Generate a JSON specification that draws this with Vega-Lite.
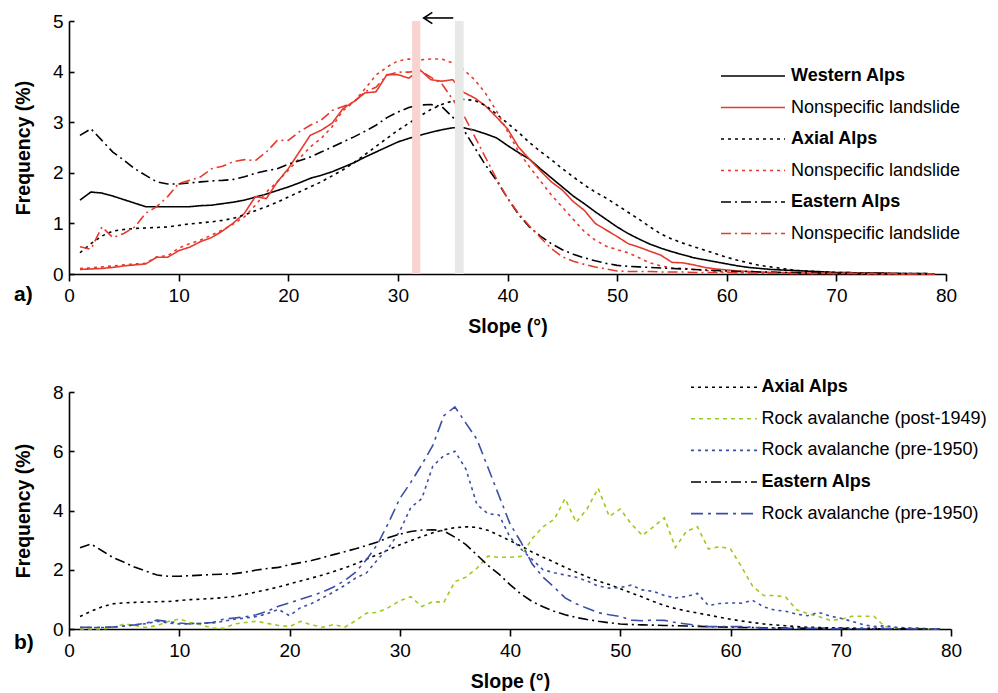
{
"$schema": "https://vega.github.io/schema/vega-lite/v6.json",
"autosize": {"type": "pad"},
"padding": {"left": 13, "top": 9, "right": 0, "bottom": 0},
"background": "white",
"bounds": "flush",
"spacing": 118,
"datasets": {"d": [
{"x":1,"W":1.46,"WN":0.09,"A":0.42,"AN":0.11,"E":2.74,"EN":0.54,"G":0,"BD":0.05,"BE":0.06},
{"x":2,"W":1.62,"WN":0.10,"A":0.60,"AN":0.12,"E":2.87,"EN":0.49,"G":0,"BD":0.05,"BE":0.06},
{"x":3,"W":1.60,"WN":0.11,"A":0.75,"AN":0.14,"E":2.64,"EN":0.93,"G":0,"BD":0.05,"BE":0.06},
{"x":4,"W":1.54,"WN":0.13,"A":0.85,"AN":0.16,"E":2.41,"EN":0.72,"G":0.05,"BD":0.06,"BE":0.07},
{"x":5,"W":1.47,"WN":0.16,"A":0.88,"AN":0.18,"E":2.25,"EN":0.80,"G":0.17,"BD":0.10,"BE":0.10},
{"x":6,"W":1.40,"WN":0.18,"A":0.90,"AN":0.20,"E":2.08,"EN":0.93,"G":0.12,"BD":0.14,"BE":0.14},
{"x":7,"W":1.33,"WN":0.20,"A":0.91,"AN":0.21,"E":1.95,"EN":1.20,"G":0.05,"BD":0.18,"BE":0.20},
{"x":8,"W":1.33,"WN":0.33,"A":0.92,"AN":0.34,"E":1.82,"EN":1.33,"G":0.12,"BD":0.26,"BE":0.30},
{"x":9,"W":1.33,"WN":0.33,"A":0.93,"AN":0.36,"E":1.78,"EN":1.53,"G":0.25,"BD":0.20,"BE":0.25},
{"x":10,"W":1.33,"WN":0.46,"A":0.96,"AN":0.51,"E":1.78,"EN":1.79,"G":0.34,"BD":0.17,"BE":0.20},
{"x":11,"W":1.33,"WN":0.53,"A":0.99,"AN":0.60,"E":1.80,"EN":1.85,"G":0.22,"BD":0.18,"BE":0.17},
{"x":12,"W":1.35,"WN":0.64,"A":1.01,"AN":0.67,"E":1.82,"EN":1.92,"G":0.14,"BD":0.19,"BE":0.19},
{"x":13,"W":1.36,"WN":0.72,"A":1.03,"AN":0.77,"E":1.84,"EN":2.08,"G":0.03,"BD":0.20,"BE":0.22},
{"x":14,"W":1.39,"WN":0.85,"A":1.06,"AN":0.87,"E":1.85,"EN":2.13,"G":0.02,"BD":0.26,"BE":0.33},
{"x":15,"W":1.42,"WN":1.01,"A":1.10,"AN":0.99,"E":1.87,"EN":2.22,"G":0.17,"BD":0.33,"BE":0.37},
{"x":16,"W":1.46,"WN":1.20,"A":1.17,"AN":1.13,"E":1.92,"EN":2.26,"G":0.22,"BD":0.37,"BE":0.41},
{"x":17,"W":1.52,"WN":1.53,"A":1.25,"AN":1.36,"E":1.99,"EN":2.24,"G":0.26,"BD":0.42,"BE":0.48},
{"x":18,"W":1.58,"WN":1.49,"A":1.33,"AN":1.62,"E":2.04,"EN":2.41,"G":0.19,"BD":0.52,"BE":0.60},
{"x":19,"W":1.65,"WN":1.82,"A":1.42,"AN":1.82,"E":2.08,"EN":2.64,"G":0.12,"BD":0.66,"BE":0.77},
{"x":20,"W":1.72,"WN":2.08,"A":1.52,"AN":2.05,"E":2.17,"EN":2.64,"G":0.08,"BD":0.45,"BE":0.88},
{"x":21,"W":1.80,"WN":2.41,"A":1.62,"AN":2.28,"E":2.24,"EN":2.81,"G":0.26,"BD":0.72,"BE":1.00},
{"x":22,"W":1.89,"WN":2.74,"A":1.72,"AN":2.51,"E":2.31,"EN":2.94,"G":0.14,"BD":0.86,"BE":1.12},
{"x":23,"W":1.95,"WN":2.84,"A":1.82,"AN":2.68,"E":2.41,"EN":3.04,"G":0.06,"BD":1.05,"BE":1.25},
{"x":24,"W":2.02,"WN":2.98,"A":1.94,"AN":2.91,"E":2.51,"EN":3.23,"G":0.15,"BD":1.25,"BE":1.42},
{"x":25,"W":2.11,"WN":3.27,"A":2.06,"AN":3.23,"E":2.61,"EN":3.31,"G":0.06,"BD":1.47,"BE":1.63},
{"x":26,"W":2.20,"WN":3.41,"A":2.20,"AN":3.40,"E":2.71,"EN":3.40,"G":0.28,"BD":1.72,"BE":1.92},
{"x":27,"W":2.31,"WN":3.58,"A":2.36,"AN":3.66,"E":2.82,"EN":3.60,"G":0.54,"BD":1.90,"BE":2.35},
{"x":28,"W":2.41,"WN":3.60,"A":2.52,"AN":3.93,"E":2.94,"EN":3.69,"G":0.56,"BD":2.35,"BE":2.87},
{"x":29,"W":2.51,"WN":3.94,"A":2.68,"AN":4.09,"E":3.09,"EN":3.93,"G":0.73,"BD":2.75,"BE":3.60},
{"x":30,"W":2.61,"WN":3.94,"A":2.84,"AN":4.21,"E":3.20,"EN":3.99,"G":0.95,"BD":3.30,"BE":4.40},
{"x":31,"W":2.68,"WN":3.87,"A":2.98,"AN":4.25,"E":3.29,"EN":3.99,"G":1.09,"BD":4.10,"BE":4.95},
{"x":32,"W":2.74,"WN":4.04,"A":3.12,"AN":4.23,"E":3.34,"EN":4.02,"G":0.76,"BD":4.40,"BE":5.55},
{"x":33,"W":2.80,"WN":3.84,"A":3.25,"AN":4.25,"E":3.35,"EN":3.89,"G":0.92,"BD":5.50,"BE":6.20},
{"x":34,"W":2.85,"WN":3.81,"A":3.35,"AN":4.25,"E":3.31,"EN":3.76,"G":0.90,"BD":5.85,"BE":7.20},
{"x":35,"W":2.89,"WN":3.84,"A":3.42,"AN":4.17,"E":3.10,"EN":3.45,"G":1.60,"BD":6.00,"BE":7.50},
{"x":36,"W":2.89,"WN":3.59,"A":3.45,"AN":4.04,"E":2.85,"EN":3.14,"G":1.75,"BD":5.40,"BE":6.95},
{"x":37,"W":2.84,"WN":3.48,"A":3.43,"AN":3.84,"E":2.50,"EN":2.72,"G":2.05,"BD":4.20,"BE":6.40},
{"x":38,"W":2.77,"WN":3.32,"A":3.33,"AN":3.57,"E":2.15,"EN":2.30,"G":2.46,"BD":3.89,"BE":5.45},
{"x":39,"W":2.69,"WN":3.10,"A":3.16,"AN":3.22,"E":1.85,"EN":1.88,"G":2.42,"BD":3.85,"BE":4.50},
{"x":40,"W":2.54,"WN":2.87,"A":2.98,"AN":2.82,"E":1.50,"EN":1.50,"G":2.42,"BD":3.10,"BE":3.55},
{"x":41,"W":2.40,"WN":2.51,"A":2.80,"AN":2.42,"E":1.18,"EN":1.20,"G":2.45,"BD":2.70,"BE":2.93},
{"x":42,"W":2.27,"WN":2.27,"A":2.60,"AN":2.12,"E":0.93,"EN":0.95,"G":3.05,"BD":2.35,"BE":2.20},
{"x":43,"W":2.08,"WN":2.04,"A":2.42,"AN":1.84,"E":0.75,"EN":0.72,"G":3.45,"BD":2.00,"BE":1.75},
{"x":44,"W":1.90,"WN":1.82,"A":2.26,"AN":1.56,"E":0.60,"EN":0.50,"G":3.70,"BD":1.90,"BE":1.41},
{"x":45,"W":1.72,"WN":1.66,"A":2.08,"AN":1.32,"E":0.48,"EN":0.34,"G":4.40,"BD":1.82,"BE":1.05},
{"x":46,"W":1.54,"WN":1.43,"A":1.92,"AN":1.08,"E":0.39,"EN":0.25,"G":3.60,"BD":1.75,"BE":0.85},
{"x":47,"W":1.39,"WN":1.26,"A":1.76,"AN":0.84,"E":0.32,"EN":0.19,"G":4.06,"BD":1.62,"BE":0.70},
{"x":48,"W":1.23,"WN":1.00,"A":1.62,"AN":0.67,"E":0.26,"EN":0.14,"G":4.75,"BD":1.45,"BE":0.55},
{"x":49,"W":1.08,"WN":0.87,"A":1.50,"AN":0.55,"E":0.21,"EN":0.10,"G":3.80,"BD":1.38,"BE":0.48},
{"x":50,"W":0.93,"WN":0.74,"A":1.36,"AN":0.48,"E":0.17,"EN":0.06,"G":4.05,"BD":1.40,"BE":0.42},
{"x":51,"W":0.80,"WN":0.60,"A":1.22,"AN":0.42,"E":0.15,"EN":0.05,"G":3.55,"BD":1.48,"BE":0.30},
{"x":52,"W":0.69,"WN":0.53,"A":1.08,"AN":0.32,"E":0.14,"EN":0.05,"G":3.16,"BD":1.32,"BE":0.28},
{"x":53,"W":0.59,"WN":0.45,"A":0.93,"AN":0.22,"E":0.13,"EN":0.05,"G":3.45,"BD":1.27,"BE":0.30},
{"x":54,"W":0.51,"WN":0.37,"A":0.79,"AN":0.16,"E":0.12,"EN":0.04,"G":3.75,"BD":1.13,"BE":0.29},
{"x":55,"W":0.44,"WN":0.23,"A":0.69,"AN":0.12,"E":0.11,"EN":0.04,"G":2.75,"BD":1.05,"BE":0.22},
{"x":56,"W":0.38,"WN":0.22,"A":0.61,"AN":0.11,"E":0.10,"EN":0.04,"G":3.30,"BD":1.10,"BE":0.17},
{"x":57,"W":0.32,"WN":0.18,"A":0.54,"AN":0.09,"E":0.09,"EN":0.03,"G":3.45,"BD":1.20,"BE":0.12},
{"x":58,"W":0.28,"WN":0.13,"A":0.47,"AN":0.07,"E":0.08,"EN":0.03,"G":2.70,"BD":0.79,"BE":0.08},
{"x":59,"W":0.24,"WN":0.10,"A":0.40,"AN":0.05,"E":0.07,"EN":0.03,"G":2.78,"BD":0.86,"BE":0.08},
{"x":60,"W":0.20,"WN":0.08,"A":0.33,"AN":0.04,"E":0.06,"EN":0.03,"G":2.70,"BD":0.88,"BE":0.08},
{"x":61,"W":0.16,"WN":0.06,"A":0.27,"AN":0.03,"E":0.05,"EN":0.02,"G":2.10,"BD":0.87,"BE":0.08},
{"x":62,"W":0.13,"WN":0.05,"A":0.22,"AN":0.03,"E":0.05,"EN":0.02,"G":1.45,"BD":0.97,"BE":0.06},
{"x":63,"W":0.11,"WN":0.04,"A":0.17,"AN":0.02,"E":0.04,"EN":0.02,"G":1.13,"BD":0.75,"BE":0.03},
{"x":64,"W":0.09,"WN":0.03,"A":0.14,"AN":0.02,"E":0.04,"EN":0.02,"G":1.13,"BD":0.64,"BE":0.03},
{"x":65,"W":0.08,"WN":0.03,"A":0.11,"AN":0.02,"E":0.03,"EN":0.02,"G":1.08,"BD":0.60,"BE":0.02},
{"x":66,"W":0.07,"WN":0.03,"A":0.08,"AN":0.01,"E":0.03,"EN":0.01,"G":0.65,"BD":0.50,"BE":0.02},
{"x":67,"W":0.06,"WN":0.02,"A":0.06,"AN":0.01,"E":0.02,"EN":0.01,"G":0.52,"BD":0.45,"BE":0.02},
{"x":68,"W":0.05,"WN":0.02,"A":0.05,"AN":0.01,"E":0.02,"EN":0.01,"G":0.42,"BD":0.56,"BE":0.02},
{"x":69,"W":0.04,"WN":0.02,"A":0.04,"AN":0.01,"E":0.02,"EN":0.01,"G":0.30,"BD":0.44,"BE":0.01},
{"x":70,"W":0.03,"WN":0.02,"A":0.03,"AN":0.01,"E":0.02,"EN":0.01,"G":0.32,"BD":0.36,"BE":0.01},
{"x":71,"W":0.03,"WN":0.02,"A":0.03,"AN":0.01,"E":0.01,"EN":0.01,"G":0.43,"BD":0.26,"BE":0.01},
{"x":72,"W":0.02,"WN":0.02,"A":0.02,"AN":0.01,"E":0.01,"EN":0.01,"G":0.43,"BD":0.15,"BE":0.01},
{"x":73,"W":0.02,"WN":0.01,"A":0.02,"AN":0.0,"E":0.01,"EN":0.01,"G":0.43,"BD":0.08,"BE":0.01},
{"x":74,"W":0.02,"WN":0.01,"A":0.02,"AN":0.0,"E":0.01,"EN":0.01,"G":0.08,"BD":0.11,"BE":0.01},
{"x":75,"W":0.01,"WN":0.01,"A":0.01,"AN":0.0,"E":0.01,"EN":0.01,"G":0.04,"BD":0.06,"BE":0.01},
{"x":76,"W":0.01,"WN":0.0,"A":0.01,"AN":0.0,"E":0.01,"EN":0.0,"G":0.03,"BD":0.04,"BE":0.01},
{"x":77,"W":0.01,"WN":0.0,"A":0.01,"AN":0.0,"E":0.0,"EN":0.0,"G":0.02,"BD":0.03,"BE":0.0},
{"x":78,"W":0.01,"WN":0.0,"A":0.01,"AN":0.0,"E":0.0,"EN":0.0,"G":0.0,"BD":0.01,"BE":0.0},
{"x":79,"W":0.0,"WN":0.0,"A":0.0,"AN":0.0,"E":0.0,"EN":0.0,"G":0.0,"BD":0.0,"BE":0.0}
]},
"config": {
  "view": {"stroke": null},
  "font": "Liberation Sans",
  "axis": {"domainColor": "#000", "domainWidth": 1.6, "tickColor": "#000", "tickWidth": 1.6, "labelColor": "#000", "labelFontSize": 19, "labelFont": "Liberation Sans", "titleFont": "Liberation Sans", "titleFontSize": 19.5, "titleFontWeight": "bold", "titleColor": "#000", "grid": false},
  "legend": {"labelFont": "Liberation Sans"},
  "title": {"font": "Liberation Sans"}
},
"resolve": {"scale": {"x": "independent", "y": "independent", "color": "independent", "strokeDash": "independent"}, "legend": {"color": "independent", "strokeDash": "independent"}, "axis": {"x": "independent", "y": "independent"}},
"vconcat": [
{
  "width": 877, "height": 253,
  "title": {"text": "a)", "orient": "bottom", "anchor": "start", "frame": "group", "fontSize": 21, "fontWeight": "bold", "color": "#000", "dx": -55, "offset": -52},
  "layer": [
    {"data": {"name": "d"}, "transform": [{"fold": ["W", "WN", "A", "AN", "E", "EN"], "as": ["k", "v"]}],
     "mark": {"type": "line", "strokeWidth": 1.6},
     "encoding": {
       "x": {"field": "x", "type": "quantitative", "scale": {"domain": [0, 80], "nice": false}, "axis": {"values": [0,10,20,30,40,50,60,70,80], "title": "Slope (°)", "tickSize": 7, "labelPadding": 5, "titlePadding": 12, "labelFlush": false, "labelOverlap": false}},
       "y": {"field": "v", "type": "quantitative", "scale": {"domain": [0, 5], "nice": false}, "axis": {"values": [0,1,2,3,4,5], "title": "Frequency (%)", "tickSize": -5, "labelPadding": 11, "titlePadding": 19}},
       "color": {"field": "k", "type": "nominal", "scale": {"domain": ["W","WN","A","AN","E","EN"], "range": ["#000000","#e63a2e","#000000","#e63a2e","#000000","#e63a2e"]},
         "legend": {"orient": "none", "legendX": 643, "legendY": 46, "title": null, "symbolType": "M0,0H8", "symbolSize": 256, "symbolStrokeWidth": 1.6, "labelFontSize": 18, "labelColor": "#000", "labelOffset": 61, "labelLimit": 400, "rowPadding": 13.5, "padding": 0,
           "labelExpr": "{'W':'Western Alps','WN':'Nonspecific landslide','A':'Axial Alps','AN':'Nonspecific landslide','E':'Eastern Alps','EN':'Nonspecific landslide'}[datum.value]",
           "encode": {"labels": {"update": {"fontWeight": {"signal": "indexof(['W','A','E'], datum.value) >= 0 ? 'bold' : 'normal'"}}}}}},
       "strokeDash": {"field": "k", "type": "nominal", "scale": {"domain": ["W","WN","A","AN","E","EN"], "range": [[1,0],[1,0],[3,4],[3,4],[10,4,2,4],[10,4,2,4]]},
         "legend": {"orient": "none", "legendX": 643, "legendY": 46, "title": null, "symbolType": "M0,0H8", "symbolSize": 256, "symbolStrokeWidth": 1.6, "labelFontSize": 18, "labelColor": "#000", "labelOffset": 61, "labelLimit": 400, "rowPadding": 13.5, "padding": 0,
           "labelExpr": "{'W':'Western Alps','WN':'Nonspecific landslide','A':'Axial Alps','AN':'Nonspecific landslide','E':'Eastern Alps','EN':'Nonspecific landslide'}[datum.value]",
           "encode": {"labels": {"update": {"fontWeight": {"signal": "indexof(['W','A','E'], datum.value) >= 0 ? 'bold' : 'normal'"}}}}}}
     }},
    {"data": {"values": [{"lo": 31.3, "hi": 32.05}]}, "mark": {"type": "rect", "color": "#f9d3cf"},
     "encoding": {"x": {"field": "lo", "type": "quantitative", "scale": {"domain": [0, 80], "nice": false}}, "x2": {"field": "hi"},
                  "y": {"datum": 0, "type": "quantitative", "scale": {"domain": [0, 5], "nice": false}}, "y2": {"datum": 5}}},
    {"data": {"values": [{"lo": 35.2, "hi": 36.0}]}, "mark": {"type": "rect", "color": "#e7e9e7"},
     "encoding": {"x": {"field": "lo", "type": "quantitative", "scale": {"domain": [0, 80], "nice": false}}, "x2": {"field": "hi"},
                  "y": {"datum": 0, "type": "quantitative", "scale": {"domain": [0, 5], "nice": false}}, "y2": {"datum": 5}}},
    {"data": {"values": [{"x1": 32.35, "x2": 35.05, "y": 5.06}]}, "mark": {"type": "rule", "strokeWidth": 1.6, "color": "#000"},
     "encoding": {"x": {"field": "x1", "type": "quantitative", "scale": {"domain": [0, 80], "nice": false}}, "x2": {"field": "x2"},
                  "y": {"field": "y", "type": "quantitative", "scale": {"domain": [0, 5], "nice": false}}}},
    {"data": {"values": [{"x": 32.75, "y": 5.06}]}, "mark": {"type": "point", "shape": "M1,-1.3L-1,0L1,1.3", "size": 74, "filled": false, "stroke": "#000", "strokeWidth": 1.6, "opacity": 1},
     "encoding": {"x": {"field": "x", "type": "quantitative", "scale": {"domain": [0, 80], "nice": false}},
                  "y": {"field": "y", "type": "quantitative", "scale": {"domain": [0, 5], "nice": false}}}}
  ]
},
{
  "width": 882, "height": 237,
  "title": {"text": "b)", "orient": "bottom", "anchor": "start", "frame": "group", "fontSize": 21, "fontWeight": "bold", "color": "#000", "dx": -55, "offset": -59},
  "data": {"name": "d"},
  "transform": [{"fold": ["A", "G", "BD", "E", "BE"], "as": ["k", "v"]}],
  "mark": {"type": "line", "strokeWidth": 1.6},
  "encoding": {
    "x": {"field": "x", "type": "quantitative", "scale": {"domain": [0, 80], "nice": false}, "axis": {"values": [0,10,20,30,40,50,60,70,80], "title": "Slope (°)", "tickSize": 7, "labelPadding": 5, "titlePadding": 12, "labelFlush": false, "labelOverlap": false}},
    "y": {"field": "v", "type": "quantitative", "scale": {"domain": [0, 8], "nice": false}, "axis": {"values": [0,2,4,6,8], "title": "Frequency (%)", "tickSize": -5, "labelPadding": 11, "titlePadding": 19}},
    "color": {"field": "k", "type": "nominal", "scale": {"domain": ["A","G","BD","E","BE"], "range": ["#000000","#9ccb1c","#3b4fa6","#000000","#3b4fa6"]},
      "legend": {"orient": "none", "legendX": 612.5, "legendY": -14.3, "title": null, "symbolType": "M0,0H8", "symbolSize": 272, "symbolStrokeWidth": 1.6, "labelFontSize": 18, "labelColor": "#000", "labelOffset": 61, "labelLimit": 400, "rowPadding": 12.6, "padding": 0,
        "labelExpr": "{'A':'Axial Alps','G':'Rock avalanche (post-1949)','BD':'Rock avalanche (pre-1950)','E':'Eastern Alps','BE':'Rock avalanche (pre-1950)'}[datum.value]",
        "encode": {"labels": {"update": {"fontWeight": {"signal": "indexof(['A','E'], datum.value) >= 0 ? 'bold' : 'normal'"}}}}}},
    "strokeDash": {"field": "k", "type": "nominal", "scale": {"domain": ["A","G","BD","E","BE"], "range": [[3,4],[4,4],[3,4],[10,4,2,4],[12,5,3,5]]},
      "legend": {"orient": "none", "legendX": 612.5, "legendY": -14.3, "title": null, "symbolType": "M0,0H8", "symbolSize": 272, "symbolStrokeWidth": 1.6, "labelFontSize": 18, "labelColor": "#000", "labelOffset": 61, "labelLimit": 400, "rowPadding": 12.6, "padding": 0,
        "labelExpr": "{'A':'Axial Alps','G':'Rock avalanche (post-1949)','BD':'Rock avalanche (pre-1950)','E':'Eastern Alps','BE':'Rock avalanche (pre-1950)'}[datum.value]",
        "encode": {"labels": {"update": {"fontWeight": {"signal": "indexof(['A','E'], datum.value) >= 0 ? 'bold' : 'normal'"}}}}}}
  }
}
]
}
